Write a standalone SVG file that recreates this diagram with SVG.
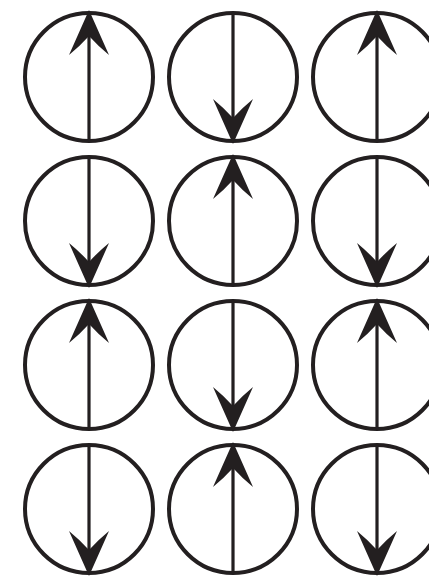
<svg xmlns="http://www.w3.org/2000/svg" xmlns:xlink="http://www.w3.org/1999/xlink" width="429" height="577" viewBox="0 0 429 577">
<style>
.ring{fill:none;stroke:#231f20;stroke-width:4}
.shaft{stroke:#231f20;stroke-width:3.2}
.head{fill:#231f20}
</style>
<defs>
<g id="up">
<circle class="ring" cx="0" cy="0" r="64"/>
<line class="shaft" x1="0" y1="64" x2="0" y2="-50"/>
<path class="head" d="M0,-67 L20,-22 Q9,-31 0,-41 Q-9,-31 -20,-22 Z"/>
</g>
<g id="down">
<use xlink:href="#up" transform="scale(1,-1)"/>
</g>
</defs>
<rect width="429" height="577" fill="#fff"/>
<g id="n11"><use xlink:href="#up" x="89" y="77"/></g>
<g id="n12"><use xlink:href="#down" x="233" y="77"/></g>
<g id="n13"><use xlink:href="#up" x="377" y="77"/></g>
<g id="n21"><use xlink:href="#down" x="89" y="221"/></g>
<g id="n22"><use xlink:href="#up" x="233" y="221"/></g>
<g id="n23"><use xlink:href="#down" x="377" y="221"/></g>
<g id="n31"><use xlink:href="#up" x="89" y="365"/></g>
<g id="n32"><use xlink:href="#down" x="233" y="365"/></g>
<g id="n33"><use xlink:href="#up" x="377" y="365"/></g>
<g id="n41"><use xlink:href="#down" x="89" y="509"/></g>
<g id="n42"><use xlink:href="#up" x="233" y="509"/></g>
<g id="n43"><use xlink:href="#down" x="377" y="509"/></g>
<g id="connectors"/>
</svg>
